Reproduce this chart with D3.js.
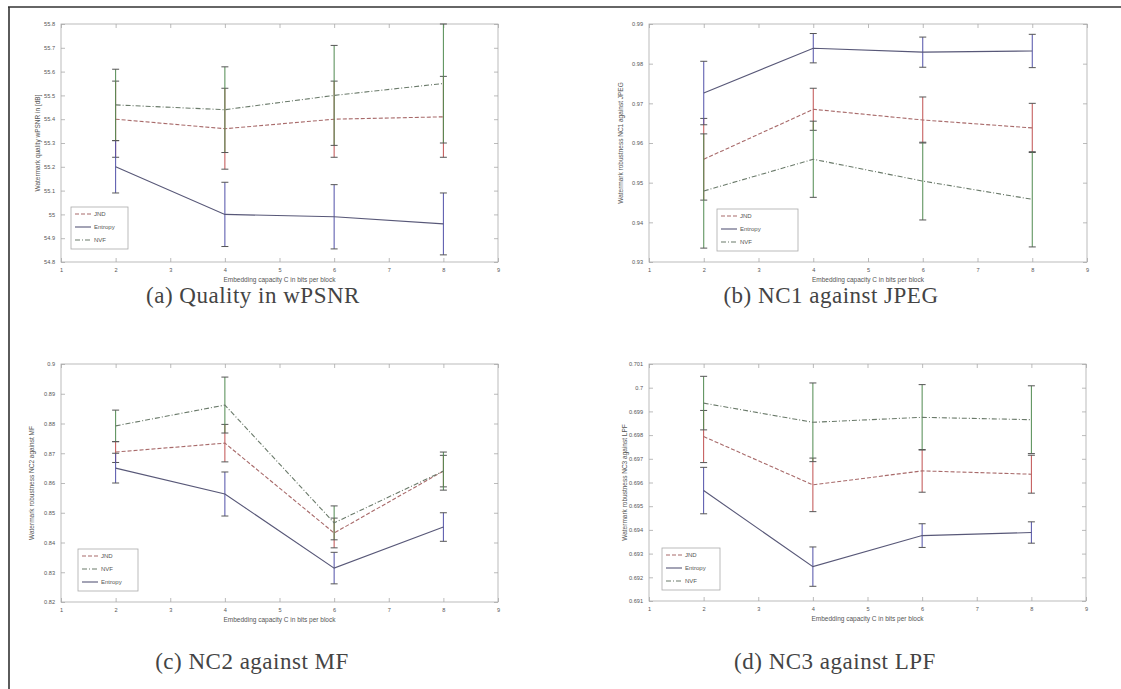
<!DOCTYPE html>
<html lang="en">
<head>
  <meta charset="UTF-8">
  <title>Embedding capacity figures</title>
  <script src="https://d3js.org/d3.v7.min.js"></script>
  <style>
    body { margin: 0; background: #fff; }
    svg { display: block; }
    .tick-label { font-family: "Liberation Sans", Arial, sans-serif; font-size: 5.6px; fill: #555; }
    .axis-label { font-family: "Liberation Sans", Arial, sans-serif; font-size: 6.5px; fill: #555; }
    .legend-text { font-family: "Liberation Sans", Arial, sans-serif; font-size: 6px; fill: #555; }
    .caption { font-family: "Liberation Serif", "DejaVu Serif", serif; font-size: 23px; letter-spacing: 0.5px; fill: #444; }
  </style>
</head>
<body>
  <svg width="1121" height="689"></svg>

  <script>
    // shared x values and ticks
    const capacity = [2, 4, 6, 8];
    const xTicks = [1, 2, 3, 4, 5, 6, 7, 8, 9];
    const xLabel = "Embedding capacity C in bits per block";

    // (a) quality in wPSNR
    const wpsnrTicks = [54.8, 54.9, 55, 55.1, 55.2, 55.3, 55.4, 55.5, 55.6, 55.7, 55.8];
    const wpsnrJND = [55.40, 55.36, 55.40, 55.41];
    const wpsnrJNDErr = [0.16, 0.17, 0.16, 0.17];
    const wpsnrEntropy = [55.20, 55.00, 54.99, 54.96];
    const wpsnrEntropyErr = [0.11, 0.135, 0.135, 0.13];
    const wpsnrNVF = [55.46, 55.44, 55.50, 55.55];
    const wpsnrNVFErr = [0.15, 0.18, 0.21, 0.25];

    // (b) NC1 against JPEG
    const nc1Ticks = [0.93, 0.94, 0.95, 0.96, 0.97, 0.98, 0.99];
    const nc1JND = [0.9559, 0.9685, 0.9658, 0.9638];
    const nc1JNDErr = [0.0103, 0.0053, 0.0058, 0.0062];
    const nc1Entropy = [0.9726, 0.9839, 0.9829, 0.9832];
    const nc1EntropyErr = [0.0080, 0.0037, 0.0038, 0.0042];
    const nc1NVF = [0.9479, 0.9559, 0.9504, 0.9458];
    const nc1NVFErr = [0.0144, 0.0096, 0.0098, 0.0120];

    // (c) NC2 against MF
    const nc2Ticks = [0.82, 0.83, 0.84, 0.85, 0.86, 0.87, 0.88, 0.89, 0.9];
    const nc2JND = [0.8704, 0.8734, 0.8432, 0.8640];
    const nc2JNDErr = [0.0035, 0.0063, 0.0050, 0.0053];
    const nc2NVF = [0.8792, 0.8862, 0.8466, 0.8640];
    const nc2NVFErr = [0.0053, 0.0094, 0.0057, 0.0064];
    const nc2Entropy = [0.8650, 0.8563, 0.8314, 0.8452];
    const nc2EntropyErr = [0.0050, 0.0074, 0.0053, 0.0048];

    // (d) NC3 against LPF
    const nc3Ticks = [0.691, 0.692, 0.693, 0.694, 0.695, 0.696, 0.697, 0.698, 0.699, 0.7, 0.701];
    const nc3JND = [0.69794, 0.69590, 0.69649, 0.69635];
    const nc3JNDErr = [0.0011, 0.00113, 0.0009, 0.0008];
    const nc3Entropy = [0.69566, 0.69245, 0.69376, 0.69389];
    const nc3EntropyErr = [0.00098, 0.00083, 0.0005, 0.00045];
    const nc3NVF = [0.69935, 0.69854, 0.69875, 0.69865];
    const nc3NVFErr = [0.00113, 0.00166, 0.00138, 0.00143];

    // line styles per method
    const styles = {
      JND:     { color: "#a86a6a", bar: "#c05050", dash: "4,2" },
      Entropy: { color: "#585878", bar: "#5050a8", dash: null },
      NVF:     { color: "#6a7a6a", bar: "#508a50", dash: "5,2,1,2" }
    };

    const svg = d3.select("svg");

    // outer frame (top and left edges)
    svg.append("line").attr("x1", 8).attr("y1", 7).attr("x2", 1121).attr("y2", 7)
       .attr("stroke", "#333").attr("stroke-width", 1.6);
    svg.append("line").attr("x1", 9).attr("y1", 7).attr("x2", 9).attr("y2", 689)
       .attr("stroke", "#333").attr("stroke-width", 1.6);

    const fmt = v => String(+v.toFixed(4));

    function drawPanel(p) {
      const g = svg.append("g");
      const x = d3.scaleLinear().domain([1, 9]).range([p.left, p.right]);
      const y = d3.scaleLinear().domain([p.ticks[0], p.ticks[p.ticks.length - 1]]).range([p.bottom, p.top]);

      // box
      g.append("rect")
        .attr("x", p.left).attr("y", p.top)
        .attr("width", p.right - p.left).attr("height", p.bottom - p.top)
        .attr("fill", "none").attr("stroke", "#aaa").attr("stroke-width", 0.8);

      // inward ticks like matlab, bottom/top and left/right
      const xAxisB = d3.axisBottom(x).tickValues(xTicks).tickSize(-4).tickPadding(6).tickFormat(fmt);
      const xAxisT = d3.axisTop(x).tickValues(xTicks).tickSize(-4).tickFormat("");
      const yAxisL = d3.axisLeft(y).tickValues(p.ticks).tickSize(-4).tickPadding(6).tickFormat(fmt);
      const yAxisR = d3.axisRight(y).tickValues(p.ticks).tickSize(-4).tickFormat("");

      [[xAxisB, `translate(0,${p.bottom})`], [xAxisT, `translate(0,${p.top})`],
       [yAxisL, `translate(${p.left},0)`], [yAxisR, `translate(${p.right},0)`]].forEach(([ax, tr]) => {
        const a = g.append("g").attr("transform", tr).call(ax);
        a.select(".domain").remove();
        a.selectAll("line").attr("stroke", "#aaa").attr("stroke-width", 0.8);
        a.selectAll("text").attr("class", "tick-label").attr("font-size", null).attr("font-family", null).attr("fill", null);
      });

      // axis labels
      g.append("text").attr("class", "axis-label")
        .attr("x", (p.left + p.right) / 2).attr("y", p.bottom + 20)
        .attr("text-anchor", "middle").text(xLabel);
      g.append("text").attr("class", "axis-label")
        .attr("transform", `translate(${p.left - p.yLabelGap},${(p.top + p.bottom) / 2}) rotate(-90)`)
        .attr("text-anchor", "middle").text(p.yLabel);

      const line = d3.line().x((d, i) => x(capacity[i])).y(d => y(d));
      const [lo, hi] = y.domain();
      const clip = v => Math.max(lo, Math.min(hi, v));

      p.series.forEach(s => {
        const st = styles[s.name];
        // error bars
        s.values.forEach((v, i) => {
          const cx = x(capacity[i]);
          const top = v + s.err[i], bot = v - s.err[i];
          g.append("line").attr("x1", cx).attr("x2", cx)
            .attr("y1", y(clip(top))).attr("y2", y(clip(bot)))
            .attr("stroke", st.bar).attr("stroke-width", 1);
          [top, bot].forEach(e => {
            if (e > hi || e < lo) return;
            g.append("line").attr("x1", cx - 3.5).attr("x2", cx + 3.5)
              .attr("y1", y(e)).attr("y2", y(e))
              .attr("stroke", "#555").attr("stroke-width", 1);
          });
        });
        g.append("path").datum(s.values)
          .attr("d", line).attr("fill", "none")
          .attr("stroke", st.color).attr("stroke-width", 1.1)
          .attr("stroke-dasharray", st.dash);
      });

      // legend
      const lg = g.append("g").attr("transform", `translate(${p.legend[0]},${p.legend[1]})`);
      const lh = 13;
      lg.append("rect").attr("width", p.legend[2]).attr("height", p.series.length * lh + 3)
        .attr("fill", "#fff").attr("stroke", "#aaa").attr("stroke-width", 0.8);
      p.legendOrder.forEach((name, i) => {
        const st = styles[name];
        const ly = 7 + i * lh;
        lg.append("line").attr("x1", 4).attr("x2", 20).attr("y1", ly).attr("y2", ly)
          .attr("stroke", st.color).attr("stroke-width", 1.1).attr("stroke-dasharray", st.dash);
        lg.append("text").attr("class", "legend-text").attr("x", 23).attr("y", ly + 2.2).text(name);
      });

      // caption
      svg.append("text").attr("class", "caption")
        .attr("x", p.capX).attr("y", p.capY).attr("text-anchor", "middle").text(p.caption);
    }

    drawPanel({
      left: 61, right: 498, top: 24, bottom: 262, ticks: wpsnrTicks,
      yLabel: "Watermark quality wPSNR in [dB]", yLabelGap: 21,
      series: [
        { name: "JND", values: wpsnrJND, err: wpsnrJNDErr },
        { name: "Entropy", values: wpsnrEntropy, err: wpsnrEntropyErr },
        { name: "NVF", values: wpsnrNVF, err: wpsnrNVFErr }
      ],
      legendOrder: ["JND", "Entropy", "NVF"], legend: [71, 207, 57],
      caption: "(a) Quality in wPSNR", capX: 253, capY: 303
    });

    drawPanel({
      left: 649, right: 1087, top: 24, bottom: 262, ticks: nc1Ticks,
      yLabel: "Watermark robustness NC1 against JPEG", yLabelGap: 26,
      series: [
        { name: "JND", values: nc1JND, err: nc1JNDErr },
        { name: "Entropy", values: nc1Entropy, err: nc1EntropyErr },
        { name: "NVF", values: nc1NVF, err: nc1NVFErr }
      ],
      legendOrder: ["JND", "Entropy", "NVF"], legend: [717, 209, 81],
      caption: "(b) NC1 against JPEG", capX: 831, capY: 303
    });

    drawPanel({
      left: 61, right: 498, top: 364, bottom: 602, ticks: nc2Ticks,
      yLabel: "Watermark robustness NC2 against MF", yLabelGap: 27,
      series: [
        { name: "JND", values: nc2JND, err: nc2JNDErr },
        { name: "NVF", values: nc2NVF, err: nc2NVFErr },
        { name: "Entropy", values: nc2Entropy, err: nc2EntropyErr }
      ],
      legendOrder: ["JND", "NVF", "Entropy"], legend: [78, 549, 60],
      caption: "(c) NC2 against MF", capX: 252, capY: 669
    });

    drawPanel({
      left: 649, right: 1086, top: 364, bottom: 601, ticks: nc3Ticks,
      yLabel: "Watermark robustness NC3 against LPF", yLabelGap: 22,
      series: [
        { name: "JND", values: nc3JND, err: nc3JNDErr },
        { name: "Entropy", values: nc3Entropy, err: nc3EntropyErr },
        { name: "NVF", values: nc3NVF, err: nc3NVFErr }
      ],
      legendOrder: ["JND", "Entropy", "NVF"], legend: [662, 548, 58],
      caption: "(d) NC3 against LPF", capX: 835, capY: 669
    });
  </script>
</body>
</html>
